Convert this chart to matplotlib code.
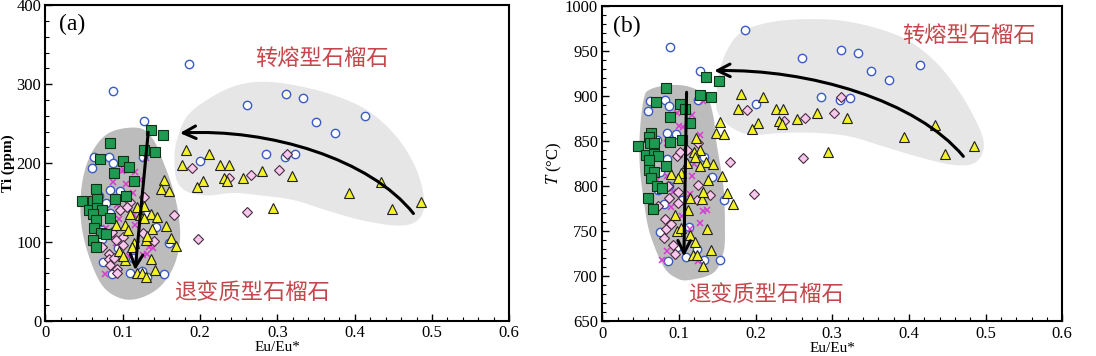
import numpy as np
import matplotlib
matplotlib.use('Agg')
import matplotlib.pyplot as plt
from matplotlib.patches import Polygon, FancyArrowPatch
from matplotlib.path import Path
from matplotlib.ticker import MultipleLocator

plt.rcParams['font.family'] = ['Liberation Serif', 'DejaVu Serif']
plt.rcParams['mathtext.fontset'] = 'stix'

# ---------------- panel (a): Eu/Eu* vs Ti (ppm) ----------------
a_circle_x = [0.186, 0.088, 0.128, 0.261, 0.311, 0.333, 0.350, 0.374, 0.414, 0.285, 0.310, 0.323,
              0.200, 0.063, 0.060, 0.082, 0.087, 0.126, 0.084, 0.096, 0.079, 0.069, 0.083, 0.131,
              0.143, 0.073, 0.160, 0.073, 0.075, 0.086, 0.109, 0.153, 0.125, 0.113, 0.094, 0.131]
a_circle_y = [325, 291, 253, 273, 287, 282, 252, 238, 260, 211, 208, 211,
              203, 208, 194, 208, 200, 208, 166, 165, 149, 158, 137, 136,
              119, 115, 99, 104, 75, 59, 61, 59, 63, 79, 92, 56]

a_square_x = [0.136, 0.152, 0.083, 0.127, 0.142, 0.070, 0.101, 0.108, 0.089, 0.114, 0.065, 0.104,
              0.090, 0.047, 0.061, 0.067, 0.057, 0.067, 0.073, 0.061, 0.066, 0.083, 0.063, 0.072,
              0.079, 0.061, 0.066]
a_square_y = [242, 236, 226, 216, 214, 205, 203, 195, 187, 177, 167, 158,
              155, 152, 152, 154, 141, 143, 140, 135, 128, 130, 117, 111,
              110, 102, 93]

a_tri_x = [0.182, 0.211, 0.177, 0.226, 0.237, 0.204, 0.196, 0.231, 0.235, 0.255, 0.280, 0.319,
           0.295, 0.393, 0.434, 0.448, 0.486,
           0.154, 0.150, 0.160, 0.119, 0.128, 0.123, 0.136, 0.144, 0.127, 0.109, 0.091, 0.103,
           0.107, 0.138, 0.156, 0.163, 0.169, 0.114, 0.112, 0.130, 0.131, 0.095, 0.103, 0.136,
           0.100, 0.119, 0.125, 0.130, 0.142]
a_tri_y = [217, 212, 197, 197, 197, 177, 170, 181, 177, 181, 190, 184,
           143, 162, 176, 142, 151,
           178, 167, 165, 144, 146, 134, 135, 131, 130, 136, 121, 121,
           115, 116, 120, 105, 95, 99, 93, 102, 108, 88, 77, 78,
           82, 61, 60, 55, 65]

a_dia_x = [0.189, 0.266, 0.237, 0.302, 0.312, 0.261, 0.198, 0.166, 0.109, 0.097, 0.105, 0.086,
           0.100, 0.101, 0.091, 0.073, 0.082, 0.082, 0.083, 0.092, 0.093, 0.089, 0.128, 0.140,
           0.126]
a_dia_y = [194, 185, 181, 191, 211, 138, 104, 134, 151, 140, 144, 112,
           106, 96, 102, 94, 85, 78, 71, 66, 61, 80, 157, 101,
           111]

a_cross_x = [0.130, 0.099, 0.102, 0.116, 0.088, 0.104, 0.122, 0.113, 0.093, 0.106, 0.114, 0.095,
             0.116, 0.079, 0.092, 0.118, 0.134, 0.139, 0.108, 0.126, 0.077, 0.091, 0.131]
a_cross_y = [207, 190, 191, 189, 176, 174, 178, 162, 147, 155, 134, 129,
             121, 118, 104, 97, 93, 92, 82, 83, 59, 99, 85]

# ---------------- panel (b): Eu/Eu* vs T (°C) ----------------
b_circle_x = [0.186, 0.089, 0.127, 0.260, 0.312, 0.333, 0.350, 0.374, 0.414, 0.285, 0.310, 0.323,
              0.200, 0.062, 0.060, 0.082, 0.087, 0.125, 0.084, 0.096, 0.071, 0.084, 0.075, 0.073,
              0.087, 0.133, 0.143, 0.159, 0.081, 0.075, 0.113, 0.086, 0.109, 0.133, 0.153, 0.123,
              0.097, 0.104]
b_circle_y = [973, 954, 928, 942, 951, 948, 928, 918, 934, 899, 896, 898,
              891, 894, 883, 896, 889, 896, 859, 858, 851, 830, 816, 796,
              800, 832, 810, 785, 780, 749, 755, 717, 721, 718, 718, 730,
              733, 785]

b_square_x = [0.135, 0.152, 0.083, 0.127, 0.142, 0.070, 0.101, 0.108, 0.088, 0.114, 0.064, 0.104,
              0.089, 0.047, 0.061, 0.062, 0.067, 0.057, 0.067, 0.073, 0.061, 0.061, 0.068, 0.083,
              0.064, 0.072, 0.078, 0.060, 0.066]
b_square_y = [921, 917, 909, 901, 899, 893, 891, 885, 877, 870, 859, 851,
              849, 845, 855, 848, 848, 834, 836, 833, 829, 818, 816, 822,
              809, 800, 798, 787, 775]

b_tri_x = [0.181, 0.210, 0.177, 0.226, 0.236, 0.203, 0.195, 0.231, 0.234, 0.254, 0.280, 0.319,
           0.294, 0.394, 0.434, 0.447, 0.485,
           0.154, 0.148, 0.159, 0.122, 0.128, 0.120, 0.121, 0.135, 0.144, 0.127, 0.110, 0.090,
           0.103, 0.099, 0.138, 0.156, 0.163, 0.170, 0.114, 0.130, 0.132, 0.112, 0.095, 0.098,
           0.103, 0.136, 0.114, 0.121, 0.119, 0.124, 0.131, 0.142]
b_tri_y = [902, 899, 886, 886, 885, 870, 863, 872, 869, 874, 881, 875,
           838, 855, 868, 836, 845,
           871, 859, 858, 853, 840, 838, 832, 827, 824, 822, 826, 813,
           815, 809, 807, 811, 792, 780, 787, 786, 793, 774, 768, 750,
           754, 752, 746, 738, 724, 724, 711, 729]

b_dia_x = [0.189, 0.265, 0.237, 0.302, 0.312, 0.262, 0.198, 0.167, 0.110, 0.097, 0.101, 0.086,
           0.099, 0.099, 0.087, 0.073, 0.082, 0.083, 0.090, 0.081, 0.092, 0.095, 0.125, 0.140,
           0.124, 0.125]
b_dia_y = [884, 876, 872, 881, 899, 831, 791, 827, 840, 833, 838, 800,
           794, 781, 787, 778, 764, 753, 758, 742, 735, 725, 801, 790,
           785, 848]

b_cross_x = [0.110, 0.098, 0.117, 0.100, 0.105, 0.131, 0.128, 0.084, 0.113, 0.120, 0.117, 0.084,
             0.092, 0.114, 0.131, 0.137, 0.104, 0.127, 0.114, 0.078, 0.085, 0.125, 0.071, 0.090]
b_cross_y = [882, 881, 879, 867, 865, 894, 857, 848, 838, 825, 811, 811,
             793, 791, 772, 774, 767, 759, 752, 718, 728, 717, 807, 777]

# ---------------- shaded fields and trend arrows ----------------
a_light_x = [0.167, 0.170, 0.183, 0.209, 0.243, 0.278, 0.321, 0.373, 0.416, 0.450, 0.474, 0.487,
             0.489, 0.476, 0.450, 0.407, 0.364, 0.321, 0.278, 0.243, 0.209, 0.183, 0.170]
a_light_y = [204, 229, 259, 280, 297, 303, 299, 286, 267, 238, 204, 170,
             140, 124, 121, 128, 140, 153, 159, 162, 159, 164, 178]
a_dark_x = [0.123, 0.140, 0.153, 0.164, 0.172, 0.174, 0.166, 0.148, 0.123, 0.099, 0.075, 0.058,
            0.047, 0.046, 0.054, 0.071, 0.092]
a_dark_y = [244, 229, 200, 170, 136, 102, 69, 43, 29, 28, 43, 77,
            119, 162, 200, 229, 242]

b_light_x = [0.149, 0.154, 0.175, 0.210, 0.262, 0.323, 0.388, 0.432, 0.467, 0.493, 0.497, 0.484,
             0.454, 0.410, 0.367, 0.323, 0.280, 0.236, 0.193, 0.167, 0.151]
b_light_y = [896, 932, 966, 980, 985, 982, 966, 940, 903, 862, 840, 825,
             824, 833, 844, 855, 859, 859, 857, 866, 881]
b_dark_x = [0.062, 0.088, 0.114, 0.136, 0.145, 0.149, 0.158, 0.160, 0.158, 0.145, 0.114, 0.097,
            0.080, 0.062, 0.054, 0.049, 0.049, 0.054]
b_dark_y = [907, 912, 910, 899, 877, 848, 800, 755, 726, 704, 696, 698,
            711, 748, 785, 822, 859, 896]

a_down = [(0.133, 239), (0.116, 64)]
a_curve = [(0.476, 136), (0.42, 205), (0.29, 244), (0.174, 238)]
b_down = [(0.110, 904), (0.1065, 722)]
b_curve = [(0.471, 833), (0.41, 895), (0.27, 930), (0.146, 928)]

RED = '#c4474c'


def smooth_closed(xs, ys, n=24):
    # periodic Catmull-Rom outline through the given vertices
    p = np.column_stack([xs, ys]).astype(float)
    m = len(p)
    out = []
    t = np.linspace(0, 1, n, endpoint=False)[:, None]
    for i in range(m):
        p0, p1, p2, p3 = p[i - 1], p[i], p[(i + 1) % m], p[(i + 2) % m]
        seg = 0.5 * ((2 * p1) + (-p0 + p2) * t + (2 * p0 - 5 * p1 + 4 * p2 - p3) * t ** 2
                     + (-p0 + 3 * p1 - 3 * p2 + p3) * t ** 3)
        out.append(seg)
    return np.vstack(out)


def draw_panel(ax, light, dark, circ, sq, tri, dia, cross, down, curve):
    ax.add_patch(Polygon(smooth_closed(*light), closed=True, fc='#e6e6e6', ec='none', zorder=1))
    ax.add_patch(Polygon(smooth_closed(*dark), closed=True, fc='#bcbcbc', ec='none', zorder=1))

    ax.plot(circ[0], circ[1], ls='none', marker='o', ms=6, mfc='white', mec='#3a5cc2', mew=1, zorder=3)
    ax.plot(cross[0], cross[1], ls='none', marker='x', ms=5, mec='#d63cd0', mew=1.1, zorder=3)
    ax.plot(dia[0], dia[1], ls='none', marker='D', ms=5, mfc='#f6c8ec', mec='#4a2a40', mew=0.8, zorder=3)
    ax.plot(tri[0], tri[1], ls='none', marker='^', ms=7, mfc='#f2f226', mec='#202020', mew=0.8, zorder=3)
    ax.plot(sq[0], sq[1], ls='none', marker='s', ms=7, mfc='#1e9a52', mec='#103018', mew=0.8, zorder=3)

    ax.annotate('', xy=down[1], xytext=down[0],
                arrowprops=dict(arrowstyle='->,head_length=0.9,head_width=0.45', lw=2.2,
                                color='black', shrinkA=0, shrinkB=0), zorder=4)
    path = Path(curve, [Path.MOVETO, Path.CURVE4, Path.CURVE4, Path.CURVE4])
    ax.add_patch(FancyArrowPatch(path=path, arrowstyle='->,head_length=9,head_width=4.5',
                                 lw=2.2, color='black', zorder=4))

    ax.set_xlim(0, 0.6)
    ax.xaxis.set_minor_locator(MultipleLocator(0.02))
    ax.set_xticks([0, 0.1, 0.2, 0.3, 0.4, 0.5, 0.6])
    ax.set_xticklabels(['0', '0.1', '0.2', '0.3', '0.4', '0.5', '0.6'])
    ax.tick_params(which='both', direction='in', top=False, right=False, labelsize=12, pad=3)
    ax.tick_params(which='major', length=5, width=1)
    ax.tick_params(which='minor', length=3, width=0.8)
    for s in ax.spines.values():
        s.set_linewidth(1.5)
    ax.set_xlabel('Eu/Eu*', fontsize=11, labelpad=0)


fig = plt.figure(figsize=(10.96, 3.56), dpi=100)
ax1 = fig.add_axes([0.0414, 0.099, 0.4233, 0.886])
ax2 = fig.add_axes([0.5495, 0.097, 0.4197, 0.887])

draw_panel(ax1, (a_light_x, a_light_y), (a_dark_x, a_dark_y), (a_circle_x, a_circle_y),
           (a_square_x, a_square_y), (a_tri_x, a_tri_y), (a_dia_x, a_dia_y),
           (a_cross_x, a_cross_y), a_down, a_curve)
ax1.set_ylim(0, 400)
ax1.yaxis.set_major_locator(MultipleLocator(100))
ax1.yaxis.set_minor_locator(MultipleLocator(20))
ax1.set_ylabel('Ti (ppm)', fontsize=11, fontweight='bold', labelpad=1)
ax1.text(0.035, 376, '(a)', fontsize=17, va='center', ha='center')
ax1.text(0.358, 333, '转熔型石榴石', fontsize=16, color=RED, ha='center', va='center',
         family=['Noto Sans CJK SC'])
ax1.text(0.267, 36, '退变质型石榴石', fontsize=16, color=RED, ha='center', va='center',
         family=['Noto Sans CJK SC'])

draw_panel(ax2, (b_light_x, b_light_y), (b_dark_x, b_dark_y), (b_circle_x, b_circle_y),
           (b_square_x, b_square_y), (b_tri_x, b_tri_y), (b_dia_x, b_dia_y),
           (b_cross_x, b_cross_y), b_down, b_curve)
ax2.set_ylim(650, 1000)
ax2.yaxis.set_major_locator(MultipleLocator(50))
ax2.yaxis.set_minor_locator(MultipleLocator(10))
ax2.set_ylabel(r'$T$ (°C)', fontsize=12, labelpad=1)
ax2.text(0.032, 977, '(b)', fontsize=17, va='center', ha='center')
ax2.text(0.478, 967, '转熔型石榴石', fontsize=16, color=RED, ha='center', va='center',
         family=['Noto Sans CJK SC'])
ax2.text(0.213, 680, '退变质型石榴石', fontsize=16, color=RED, ha='center', va='center',
         family=['Noto Sans CJK SC'])

fig.savefig('out.png', dpi=100)
